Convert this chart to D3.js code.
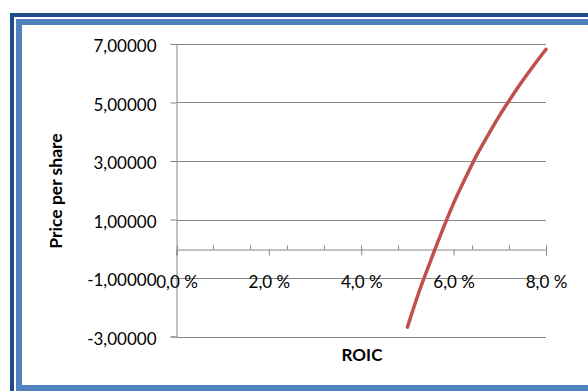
<!DOCTYPE html>
<html>
<head>
<meta charset="utf-8">
<script src="https://cdn.jsdelivr.net/npm/d3@7/dist/d3.min.js"></script>
<style>
  html, body { margin: 0; padding: 0; background: #fff; }
  svg { display: block; }
</style>
</head>
<body>
<svg id="chart" width="588" height="391"></svg>
<script>
// ROIC (%) versus price per share
const roic = [5.0, 5.25, 5.5, 5.75, 6.0, 6.25, 6.5, 6.75, 7.0, 7.25, 7.5, 7.75, 8.0];
const price = [-2.68, -1.48, -0.42, 0.60, 1.56, 2.40, 3.20, 3.90, 4.57, 5.18, 5.76, 6.30, 6.82];

const yTicks = [-3, -1, 1, 3, 5, 7];
const xMajorTicks = [0, 2, 4, 6, 8];
const xMinorTicks = [0, 0.8, 1.6, 2.4, 3.2, 4.0, 4.8, 5.6, 6.4, 7.2, 8.0];

const xTitle = "ROIC";
const yTitle = "Price per share";

const font = "Lato, 'Open Sans', sans-serif";
const gridColor = "#868686";
const lineColor = "#C0504D";

const svg = d3.select("#chart");

// outer frame: dark band plus lighter inner band
svg.append("rect")
  .attr("x", 12).attr("y", 15).attr("width", 620).attr("height", 420)
  .attr("fill", "none").attr("stroke", "#1F4E86").attr("stroke-width", 4);
svg.append("rect")
  .attr("x", 19).attr("y", 22).attr("width", 620).attr("height", 366)
  .attr("fill", "none").attr("stroke", "#4F81BD").attr("stroke-width", 6);

const x = d3.scaleLinear().domain([0, 8]).range([176.5, 546]);
const y = d3.scaleLinear().domain([-3, 7]).range([336.5, 44]);

// comma decimals, plain hyphen for negatives
const fmtY = d => d3.format(".5f")(d).replace(".", ",").replace("\u2212", "-");
const fmtX = d => d3.format(".1f")(d).replace(".", ",") + " %";

// horizontal gridlines
svg.append("g")
  .selectAll("line").data(yTicks).join("line")
  .attr("x1", x(0)).attr("x2", x(8))
  .attr("y1", d => Math.round(y(d)) + 0.5).attr("y2", d => Math.round(y(d)) + 0.5)
  .attr("stroke", gridColor).attr("stroke-width", 1);

// y axis
const yAxis = d3.axisLeft(y).tickValues(yTicks).tickSize(6).tickPadding(14).tickFormat(fmtY);
const gy = svg.append("g").attr("transform", `translate(${x(0)},0)`).call(yAxis);
gy.select(".domain").attr("stroke", gridColor);
gy.selectAll(".tick line").attr("stroke", gridColor);
gy.selectAll(".tick text")
  .attr("font-family", font).attr("font-size", 17).attr("fill", "#000")
  .attr("dy", "0.45em");

// x axis crossing at zero
const y0 = Math.round(y(0)) + 0.5;
const xAxis = d3.axisBottom(x).tickValues(xMajorTicks).tickSize(6).tickPadding(20).tickFormat(fmtX);
const gx = svg.append("g").attr("transform", `translate(0,${y0})`).call(xAxis);
gx.select(".domain").attr("stroke", gridColor);
gx.selectAll(".tick line").attr("stroke", gridColor);
gx.selectAll(".tick text")
  .attr("font-family", font).attr("font-size", 17).attr("fill", "#000");

// minor ticks point upward
svg.append("g")
  .selectAll("line").data(xMinorTicks).join("line")
  .attr("x1", d => Math.round(x(d)) + 0.5).attr("x2", d => Math.round(x(d)) + 0.5)
  .attr("y1", y0).attr("y2", y0 - 4)
  .attr("stroke", gridColor);

// series line
const line = d3.line()
  .x((d, i) => x(roic[i]))
  .y(d => y(d))
  .curve(d3.curveCatmullRom);
svg.append("path")
  .datum(price)
  .attr("d", line)
  .attr("fill", "none")
  .attr("stroke", lineColor)
  .attr("stroke-width", 3.5)
  .attr("stroke-linecap", "round");

// axis titles
svg.append("text")
  .attr("x", 362).attr("y", 361)
  .attr("text-anchor", "middle")
  .attr("font-family", font).attr("font-weight", "bold").attr("font-size", 17)
  .text(xTitle);

svg.append("text")
  .attr("transform", "translate(62,191) rotate(-90)")
  .attr("text-anchor", "middle")
  .attr("font-family", font).attr("font-weight", "bold").attr("font-size", 17.5)
  .text(yTitle);
</script>
</body>
</html>
